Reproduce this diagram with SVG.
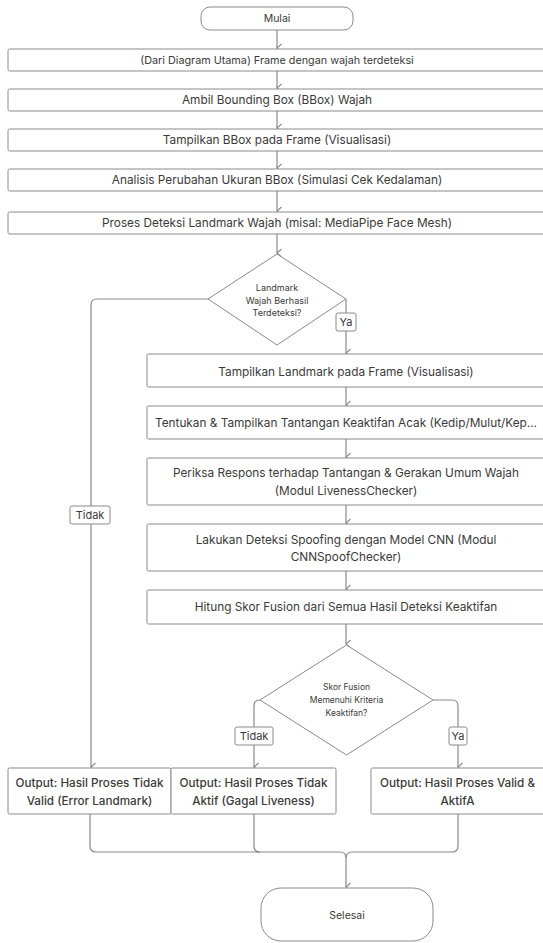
<svg xmlns="http://www.w3.org/2000/svg" width="543" height="943" viewBox="0 0 543 943">
<defs>
<style>
.box{fill:#fff;stroke:#8a8a8a;stroke-width:1}
.lbl{fill:#fff;stroke:#8a8a8a;stroke-width:1}
.t{font-family:Inter,"Noto Sans",sans-serif;fill:#3a3a3a;text-anchor:middle;dominant-baseline:central}
.s10{font-size:10.5px}
.s1{font-size:10.8px}
.s2{font-size:11.8px}
.s11{font-size:11.8px}
.sl{font-size:11px}
.s9{font-size:9px}
.s8{font-size:8.5px}
.out{font-size:11.7px;font-weight:500}
.edge{fill:none;stroke:#8a8a8a;stroke-width:1.2}
</style>
<marker id="ah" markerWidth="10" markerHeight="8" refX="5" refY="6" orient="auto-start-reverse" markerUnits="userSpaceOnUse" viewBox="0 0 10 8">
<path d="M1,1.5 L5,6 L9,1.5" fill="none" stroke="#8a8a8a" stroke-width="1.1"/>
</marker>
</defs>
<rect width="543" height="943" fill="#fff"/>
<g id="connectors">
<path class="edge" d="M277,30 V48" marker-end="url(#ah)"/>
<path class="edge" d="M277,71 V88" marker-end="url(#ah)"/>
<path class="edge" d="M277,111 V128" marker-end="url(#ah)"/>
<path class="edge" d="M277,151 V168" marker-end="url(#ah)"/>
<path class="edge" d="M277,191 V211" marker-end="url(#ah)"/>
<path class="edge" d="M277,234 V253" marker-end="url(#ah)"/>
<path class="edge" d="M208,299 H97 Q91,299 91,305 V767" marker-end="url(#ah)"/>
<path class="edge" d="M346,299 V353" marker-end="url(#ah)"/>
<path class="edge" d="M346,387 V405" marker-end="url(#ah)"/>
<path class="edge" d="M346,439 V457" marker-end="url(#ah)"/>
<path class="edge" d="M346,505 V523" marker-end="url(#ah)"/>
<path class="edge" d="M346,571 V589" marker-end="url(#ah)"/>
<path class="edge" d="M346,624 V644" marker-end="url(#ah)"/>
<path class="edge" d="M260,700 Q254,700 254,706 V767" marker-end="url(#ah)"/>
<path class="edge" d="M433,700 H452 Q458,700 458,706 V767" marker-end="url(#ah)"/>
<path class="edge" d="M90,814 V846 Q90,852 96,852 H340 Q346,852 346,858 V887" marker-end="url(#ah)"/>
<path class="edge" d="M254,814 V846 Q254,852 260,852"/>
<path class="edge" d="M458,814 V846 Q458,852 452,852 H352 Q346,852 346,858"/>
<rect class="lbl" x="70" y="506" width="40" height="18" rx="2"/>
<text class="t sl" x="90" y="515">Tidak</text>
<rect class="lbl" x="336" y="313" width="20" height="18" rx="2"/>
<text class="t sl" x="346" y="322">Ya</text>
<rect class="lbl" x="235" y="727" width="38" height="18" rx="2"/>
<text class="t sl" x="254" y="736">Tidak</text>
<rect class="lbl" x="449" y="727" width="18" height="18" rx="2"/>
<text class="t sl" x="458" y="736">Ya</text>
</g>
<g id="start">
<rect class="box" x="201" y="7" width="152" height="23" rx="9"/>
<text class="t s10" x="277" y="18.5">Mulai</text>
</g>
<g id="n1">
<rect class="box" x="8" y="49" width="538" height="22" rx="1.5"/>
<text class="t s1" x="277" y="60">(Dari Diagram Utama) Frame dengan wajah terdeteksi</text>
</g>
<g id="n2">
<rect class="box" x="8" y="89" width="538" height="22" rx="1.5"/>
<text class="t s2" x="277" y="100">Ambil Bounding Box (BBox) Wajah</text>
</g>
<g id="n3">
<rect class="box" x="8" y="129" width="538" height="22" rx="1.5"/>
<text class="t s2" x="277" y="140">Tampilkan BBox pada Frame (Visualisasi)</text>
</g>
<g id="n4">
<rect class="box" x="8" y="169" width="538" height="22" rx="1.5"/>
<text class="t s2" x="277" y="180">Analisis Perubahan Ukuran BBox (Simulasi Cek Kedalaman)</text>
</g>
<g id="n5">
<rect class="box" x="8" y="212" width="538" height="22" rx="1.5"/>
<text class="t s2" x="277" y="223">Proses Deteksi Landmark Wajah (misal: MediaPipe Face Mesh)</text>
</g>
<g id="d1">
<polygon class="box" points="277,254 346,299 277,345 208,299"/>
<text class="t s9" x="277" y="287">Landmark</text>
<text class="t s9" x="277" y="300">Wajah Berhasil</text>
<text class="t s9" x="277" y="312">Terdeteksi?</text>
</g>
<g id="n6">
<rect class="box" x="147" y="354" width="399" height="33" rx="1.5"/>
<text class="t s11" x="346" y="372">Tampilkan Landmark pada Frame (Visualisasi)</text>
</g>
<g id="n7">
<rect class="box" x="147" y="406" width="399" height="33" rx="1.5"/>
<text class="t s11" x="346" y="423">Tentukan &amp; Tampilkan Tantangan Keaktifan Acak (Kedip/Mulut/Kep...</text>
</g>
<g id="n8">
<rect class="box" x="147" y="458" width="399" height="47" rx="1.5"/>
<text class="t s11" x="346" y="473">Periksa Respons terhadap Tantangan &amp; Gerakan Umum Wajah</text>
<text class="t s11" x="346" y="491">(Modul LivenessChecker)</text>
</g>
<g id="n9">
<rect class="box" x="147" y="524" width="399" height="47" rx="1.5"/>
<text class="t s11" x="346" y="540">Lakukan Deteksi Spoofing dengan Model CNN (Modul</text>
<text class="t s11" x="346" y="557">CNNSpoofChecker)</text>
</g>
<g id="n10">
<rect class="box" x="147" y="590" width="399" height="34" rx="1.5"/>
<text class="t s11" x="346" y="607">Hitung Skor Fusion dari Semua Hasil Deteksi Keaktifan</text>
</g>
<g id="d2">
<polygon class="box" points="346.5,645 433,700 346.5,755 260,700"/>
<text class="t s8" x="346.5" y="687">Skor Fusion</text>
<text class="t s8" x="346.5" y="700">Memenuhi Kriteria</text>
<text class="t s8" x="346.5" y="713">Keaktifan?</text>
</g>
<g id="outA">
<rect class="box" x="8" y="768" width="163" height="46" rx="1.5"/>
<text class="t out" x="89.5" y="783">Output: Hasil Proses Tidak</text>
<text class="t out" x="89.5" y="801">Valid (Error Landmark)</text>
</g>
<g id="outB">
<rect class="box" x="171" y="768" width="165" height="46" rx="1.5"/>
<text class="t out" x="253.5" y="783">Output: Hasil Proses Tidak</text>
<text class="t out" x="253.5" y="801">Aktif (Gagal Liveness)</text>
</g>
<g id="outC">
<rect class="box" x="371" y="768" width="175" height="46" rx="1.5"/>
<text class="t out" x="457.5" y="783">Output: Hasil Proses Valid &amp;</text>
<text class="t out" x="457.5" y="801">AktifA</text>
</g>
<g id="end">
<rect class="box" x="261" y="888" width="172" height="53" rx="20"/>
<text class="t s10" x="347" y="915">Selesai</text>
</g>
</svg>
